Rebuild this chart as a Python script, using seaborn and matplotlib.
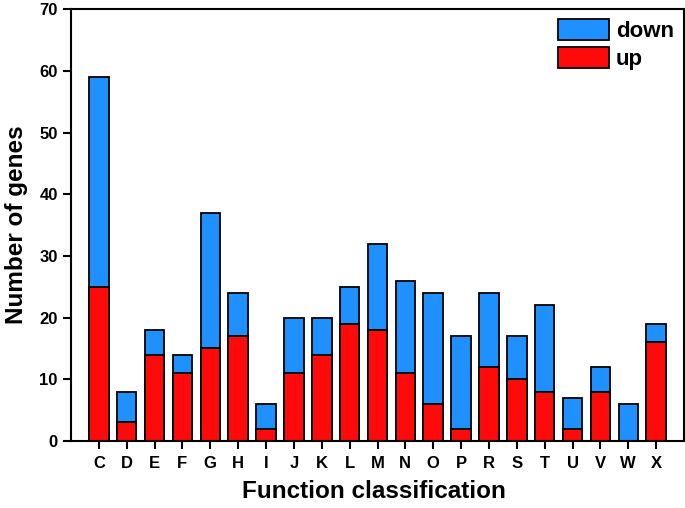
import matplotlib
matplotlib.use('Agg')
import matplotlib.pyplot as plt
import seaborn as sns
import pandas as pd
from matplotlib.patches import Patch

# Dane
kategorie = ['C', 'D', 'E', 'F', 'G', 'H', 'I', 'J', 'K', 'L', 'M',
             'N', 'O', 'P', 'R', 'S', 'T', 'U', 'V', 'W', 'X']
suma = [59, 8, 18, 14, 37, 24, 6, 20, 20, 25, 32, 26, 24, 17, 24, 17, 22, 7, 12, 6, 19]
up = [25, 3, 14, 11, 15, 17, 2, 11, 14, 19, 18, 11, 6, 2, 12, 10, 8, 2, 8, 0, 16]

df = pd.DataFrame({'kat': kategorie, 'suma': suma, 'up': up})

sns.set_style('ticks')
plt.rcParams['font.family'] = ['Liberation Sans', 'DejaVu Sans']
plt.rcParams['text.color'] = 'black'
plt.rcParams['axes.labelcolor'] = 'black'
plt.rcParams['xtick.color'] = 'black'
plt.rcParams['ytick.color'] = 'black'

fig = plt.figure(figsize=(6.85, 5.08), dpi=100)
ax = fig.add_axes([0.1036, 0.132, 0.895, 0.85])

niebieski = '#1E90FF'
czerwony = '#FF0A0A'

sns.barplot(data=df, x='kat', y='suma', color=niebieski, saturation=1,
            edgecolor='black', linewidth=1.3, width=0.7, ax=ax)
sns.barplot(data=df, x='kat', y='up', color=czerwony, saturation=1,
            edgecolor='black', linewidth=1.3, width=0.7, ax=ax)

ax.set_xlim(-1, len(kategorie))
ax.set_ylim(0, 70)
ax.set_yticks(range(0, 71, 10))
ax.set_xlabel('Function classification', fontsize=17.5, fontweight='bold')
ax.xaxis.set_label_coords(0.494, -0.117)
ax.xaxis.label.set_va('center')
ax.set_ylabel('Number of genes', fontsize=17.5, fontweight='bold', labelpad=8)
ax.tick_params(axis='both', direction='out', length=6, width=1.5, labelsize=12)
ax.tick_params(axis='x', pad=5)
for lab in ax.get_yticklabels() + ax.get_xticklabels():
    lab.set_fontweight('bold')
for s in ax.spines.values():
    s.set_linewidth(1.5)
    s.set_color('black')

uchwyty = [Patch(facecolor=niebieski, edgecolor='black', linewidth=1.3, label='down'),
           Patch(facecolor=czerwony, edgecolor='black', linewidth=1.3, label='up')]
ax.legend(handles=uchwyty, loc='upper right', frameon=False,
          prop={'weight': 'bold', 'size': 16}, handlelength=2.3, handleheight=1.1,
          handletextpad=0.3, labelspacing=0.2, borderaxespad=0.25, borderpad=0.2)

fig.savefig('out.png', dpi=100)
